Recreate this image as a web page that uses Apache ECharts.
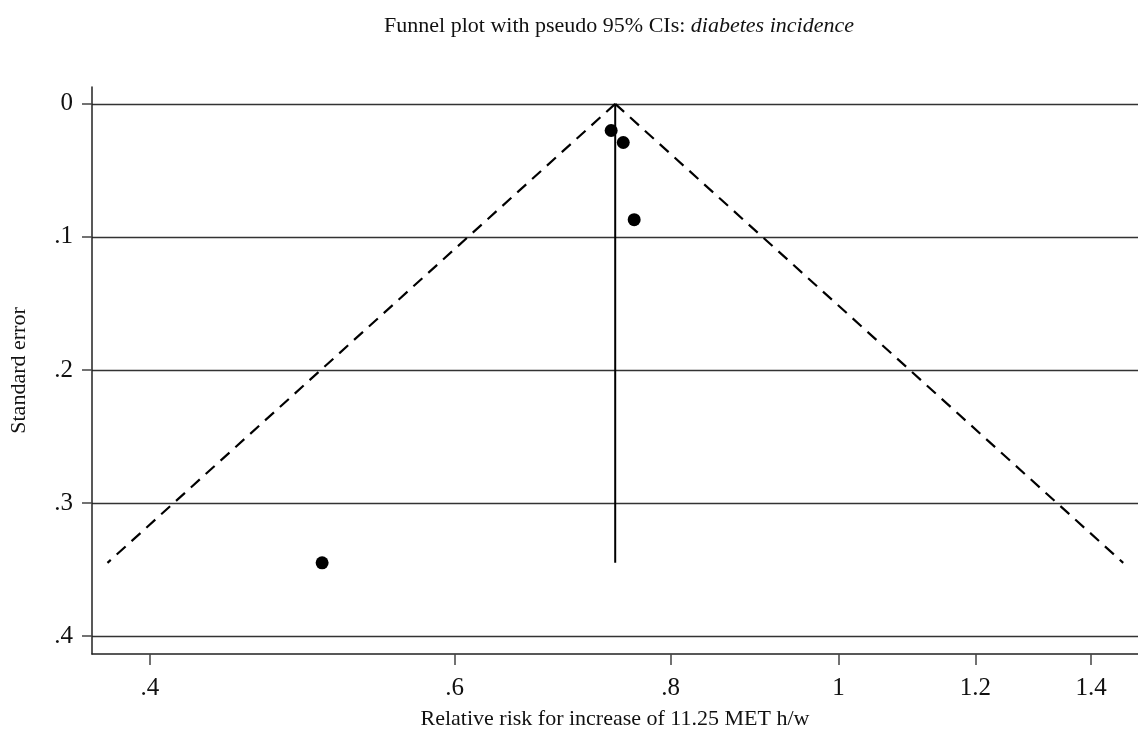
<!DOCTYPE html>
<html><head><meta charset="utf-8">
<script src="https://cdn.jsdelivr.net/npm/echarts@6/dist/echarts.min.js"></script>
<style>html,body{margin:0;padding:0;background:#fff}#c{width:1138px;height:735px}</style>
</head><body><div id="c"></div>
<script>
// Study estimates (relative risk) and standard errors
const studyRR = [0.739, 0.751, 0.762, 0.503];
const studySE = [0.020, 0.029, 0.087, 0.345];
// Pooled estimate and pseudo 95% CI funnel endpoints
const pooledRR = 0.743;
const maxSE = 0.345;
const funnelLeft = [[0.743, 0], [0.378, 0.345]];
const funnelRight = [[0.743, 0], [1.461, 0.345]];
// Tick values
const xTicks = [0.4, 0.6, 0.8, 1, 1.2, 1.4];
const yTicks = [0, 0.1, 0.2, 0.3, 0.4];

const FONT = 'Liberation Serif';
const fmt = v => {
  let s = String(Math.round(v * 100) / 100);
  if (s.startsWith('0.')) s = s.slice(1);
  return s;
};

const chart = echarts.init(document.getElementById('c'), null, {renderer: 'canvas'});
chart.setOption({
  animation: false,
  backgroundColor: '#fff',
  title: {
    text: '{n|Funnel plot with pseudo 95% CIs: }{i|diabetes incidence}',
    left: 614, top: 10, textAlign: 'center',
    textStyle: {
      fontWeight: 'normal',
      rich: {
        n: {fontFamily: FONT, fontSize: 22, fontWeight: 'normal', color: '#111'},
        i: {fontFamily: FONT, fontSize: 22, fontWeight: 'normal', fontStyle: 'italic', color: '#111'}
      }
    }
  },
  grid: {left: 90, right: 0, top: 87, bottom: 79, containLabel: false},
  xAxis: {
    type: 'log', logBase: Math.E, min: 0.3703, max: 1.49, position: 'bottom',
    name: 'Relative risk for increase of 11.25 MET h/w',
    nameLocation: 'middle', nameGap: 54,
    nameTextStyle: {fontFamily: FONT, fontSize: 22, color: '#111'},
    axisLine: {show: true, onZero: false, lineStyle: {color: '#222', width: 1.5}},
    axisTick: {show: true, length: 11, customValues: xTicks, lineStyle: {color: '#444', width: 1.5}},
    axisLabel: {customValues: xTicks, formatter: v => fmt(v), fontFamily: FONT, fontSize: 25, color: '#111', margin: 22},
    splitLine: {show: false}
  },
  yAxis: {
    type: 'value', inverse: true, min: -0.0127, max: 0.4135,
    name: 'Standard error', nameLocation: 'middle', nameGap: 62, nameRotate: 90,
    nameTextStyle: {fontFamily: FONT, fontSize: 22, color: '#111'},
    axisLine: {show: true, onZero: false, lineStyle: {color: '#222', width: 1.5}},
    axisTick: {show: true, length: 10, customValues: yTicks, lineStyle: {color: '#444', width: 1.5}},
    axisLabel: {customValues: yTicks, formatter: v => fmt(v), fontFamily: FONT, fontSize: 25, color: '#111', margin: 19},
    splitLine: {show: true, lineStyle: {color: '#333', width: 1.3}}
  },
  series: [
    {type: 'line', data: funnelLeft, symbol: 'none', lineStyle: {color: '#000', width: 2.2, type: [12, 8]}},
    {type: 'line', data: funnelRight, symbol: 'none', lineStyle: {color: '#000', width: 2.2, type: [12, 8]}},
    {type: 'line', data: [[pooledRR, 0], [pooledRR, maxSE]], symbol: 'none', lineStyle: {color: '#000', width: 2}},
    {type: 'scatter', data: studyRR.map((r, i) => [r, studySE[i]]), symbol: 'circle', symbolSize: 13, itemStyle: {color: '#000', opacity: 1}}
  ]
});
</script></body></html>
